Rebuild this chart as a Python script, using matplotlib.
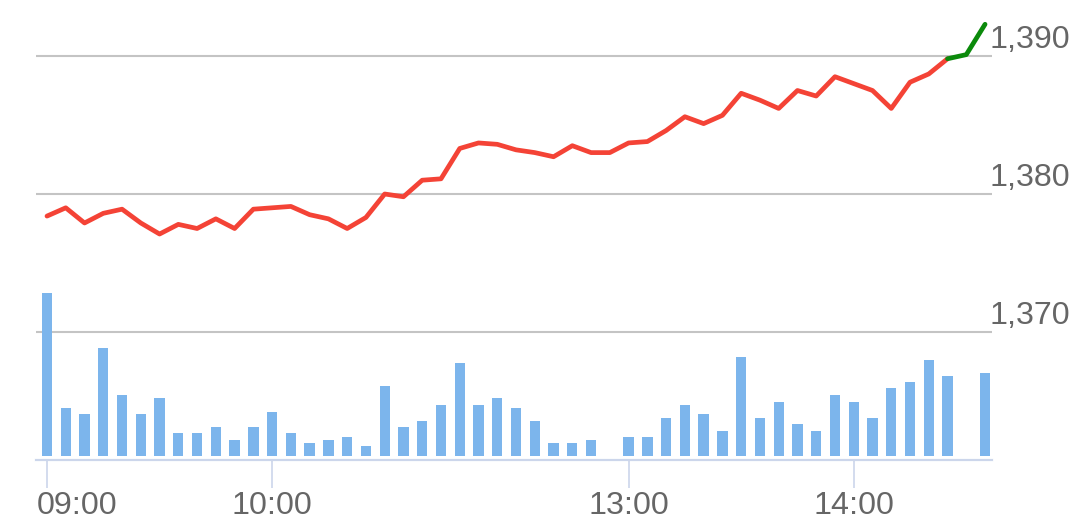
import matplotlib.pyplot as plt
from matplotlib import transforms

# --- data (5-minute slots) ------------------------------------------------
price = [1378.4, 1379.0, 1377.9, 1378.6, 1378.9, 1377.9, 1377.1, 1377.8, 1377.5, 1378.2,
         1377.5, 1378.9, 1379.0, 1379.1, 1378.5, 1378.2, 1377.5, 1378.3, 1380.0, 1379.8,
         1381.0, 1381.1, 1383.3, 1383.7, 1383.6, 1383.2, 1383.0, 1382.7, 1383.5, 1383.0,
         1383.0, 1383.7, 1383.8, 1384.6, 1385.6, 1385.1, 1385.7, 1387.3, 1386.8, 1386.2,
         1387.5, 1387.1, 1388.5, 1388.0, 1387.5, 1386.2, 1388.1, 1388.7, 1389.8, 1390.1,
         1392.3]
green_from = 48  # last segments drawn in green

volume = [163, 48, 42, 108, 61, 42, 58, 23, 23, 29,
          16, 29, 44, 23, 13, 16, 19, 10, 70, 29,
          35, 51, 93, 51, 58, 48, 35, 13, 13, 16,
          None, 19, 19, 38, 51, 42, 25, 99, 38, 54,
          32, 25, 61, 54, 38, 68, 74, 96, 80, None,
          83]

tick_pos = [0, 12, 31, 43]
tick_labels = ['09:00', '10:00', '13:00', '14:00']
grid_levels = [1370, 1380, 1390]
grid_labels = ['1,370', '1,380', '1,390']

# --- figure ----------------------------------------------------------------
W, H = 1079, 521
fig = plt.figure(figsize=(W / 100, H / 100), dpi=100)
rect = [36 / W, (H - 460) / H, (992 - 36) / W, 460 / H]
ax = fig.add_axes(rect)

font = 'Liberation Sans'
txt_color = '#666666'
fs = 23.2

# gridlines
for g in grid_levels:
    ax.axhline(g, color='#c4c4c4', lw=1.5, zorder=0)

# price line
n = len(price)
xs = list(range(n))
ax.plot(xs[:green_from + 1], price[:green_from + 1], color='#f44336', lw=3.4,
        solid_joinstyle='round', solid_capstyle='round', zorder=3)
ax.plot(xs[green_from:], price[green_from:], color='#0b8a0b', lw=3.4,
        solid_joinstyle='round', solid_capstyle='round', zorder=3)

ax.set_xlim(-0.586, 50.37)
ax.set_ylim(1360.725, 1394.058)

# volume bars
ax_vol = ax.twinx()
bx = [i for i, v in enumerate(volume) if v is not None]
bh = [v for v in volume if v is not None]
ax_vol.bar(bx, bh, width=0.55, color='#7cb5ec', zorder=1)
ax_vol.set_ylim(-4, 456)
ax_vol.set_yticks([])

for a in (ax, ax_vol):
    for s in ['top', 'right', 'left']:
        a.spines[s].set_visible(False)
    a.spines['bottom'].set_color('#ccd6eb')
    a.spines['bottom'].set_linewidth(1.5)
ax.set_yticks([])
ax.set_xticks(tick_pos)
ax.tick_params(axis='x', length=20.5, width=1.2, color='#ccd6eb',
               labelbottom=False)
ax_vol.tick_params(axis='x', length=0, labelbottom=False)

# y labels, right of plot and slightly above the gridlines
ytr = transforms.offset_copy(
    transforms.blended_transform_factory(fig.transFigure, ax.transData),
    fig=fig, x=0, y=8 * 72 / 100, units='points')
for g, lab in zip(grid_levels, grid_labels):
    ax.text(989 / W, g, lab, transform=ytr, ha='left', va='baseline',
            fontsize=fs, family=font, color=txt_color)

# x labels
lab_y = 7.5 / H
xtr = transforms.blended_transform_factory(ax.transData, fig.transFigure)
for i, (p, lab) in enumerate(zip(tick_pos, tick_labels)):
    if i == 0:
        fig.text(37 / W, lab_y, lab, ha='left', va='baseline',
                 fontsize=fs, family=font, color=txt_color)
    else:
        ax.text(p, lab_y, lab, transform=xtr, ha='center', va='baseline',
                fontsize=fs, family=font, color=txt_color, clip_on=False)

fig.savefig('out.png', dpi=100)
